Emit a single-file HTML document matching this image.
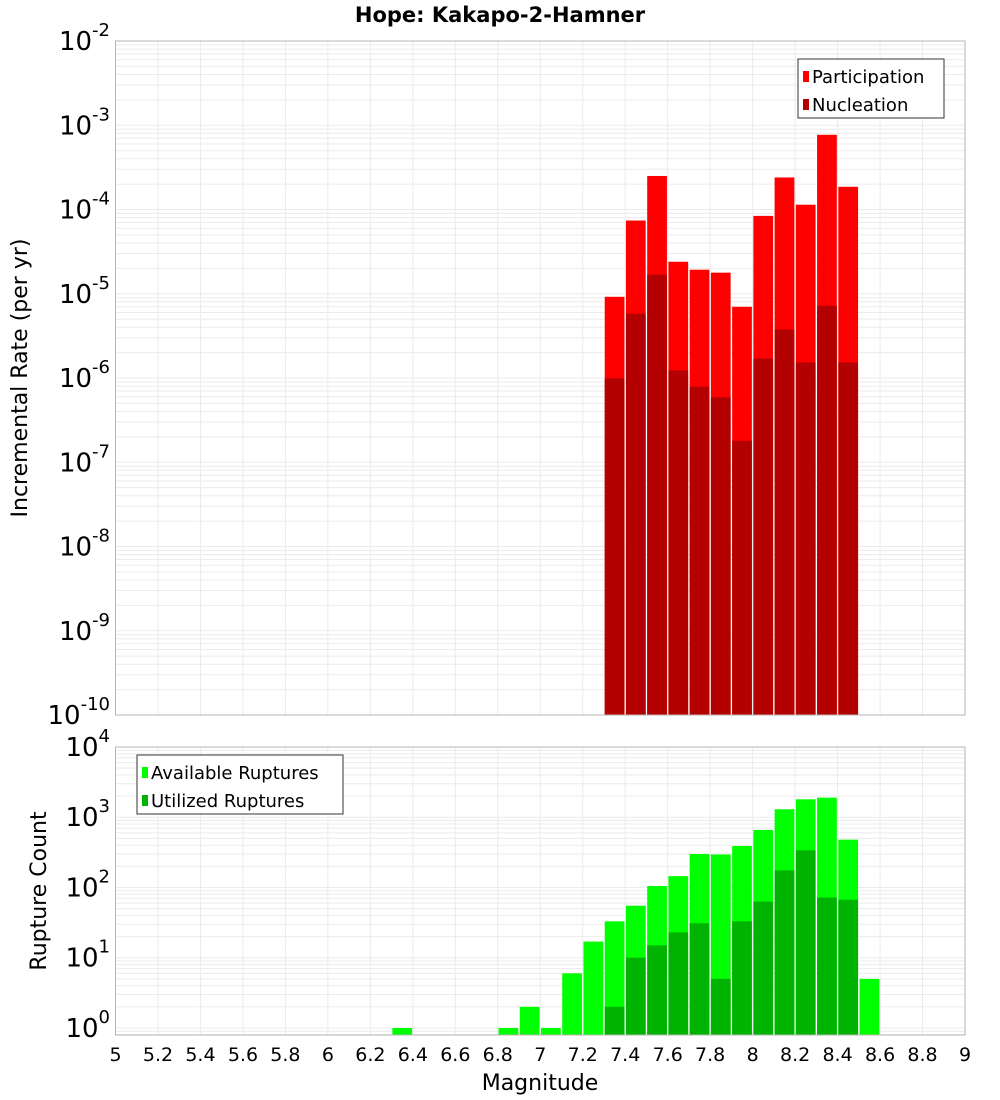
<!DOCTYPE html>
<html><head><meta charset="utf-8"><style>
html,body{margin:0;padding:0;background:#fff;}
svg{display:block;font-family:"DejaVu Sans","Liberation Sans",sans-serif;}
</style></head><body>
<svg id="chart" width="1000" height="1100" xmlns="http://www.w3.org/2000/svg"></svg>
<script>
const binCentersTop = [7.35,7.45,7.55,7.65,7.75,7.85,7.95,8.05,8.15,8.25,8.35,8.45];
const participation = [9.2e-6,7.4e-5,2.5e-4,2.4e-5,1.93e-5,1.78e-5,7.0e-6,8.4e-5,2.4e-4,1.14e-4,7.7e-4,1.86e-4];
const nucleation = [9.9e-7,5.8e-6,1.69e-5,1.23e-6,7.9e-7,5.9e-7,1.8e-7,1.7e-6,3.76e-6,1.53e-6,7.2e-6,1.53e-6];
const binCentersBot = [6.35,6.85,6.95,7.05,7.15,7.25,7.35,7.45,7.55,7.65,7.75,7.85,7.95,8.05,8.15,8.25,8.35,8.45,8.55];
const available = [1,1,2,1,6,17,33,55,105,145,300,295,390,660,1300,1800,1900,480,5];
const utilizedCenters = [7.35,7.45,7.55,7.65,7.75,7.85,7.95,8.05,8.15,8.25,8.35,8.45];
const utilized = [2,10,15,23,31,5,33,63,175,338,72,67];
const xTicks = [5,5.2,5.4,5.6,5.8,6,6.2,6.4,6.6,6.8,7,7.2,7.4,7.6,7.8,8,8.2,8.4,8.6,8.8,9];
const topExps = [-2,-3,-4,-5,-6,-7,-8,-9,-10];
const botExps = [4,3,2,1,0];

const svg = document.getElementById('chart');
const NS = 'http://www.w3.org/2000/svg';
function mk(tag, attrs, parent){const e=document.createElementNS(NS,tag);for(const k in attrs)e.setAttribute(k,attrs[k]);(parent||svg).appendChild(e);return e;}

const L=115.5,R=965;
const xS = v => L + (v-5)/4*(R-L);
const T1=41,B1=715, tMin=-10,tMax=-2;
const yT = v => B1 - (Math.log10(v)-tMin)/(tMax-tMin)*(B1-T1);
const T2=747,B2=1035, bMin=-0.1,bMax=4;
const yB = v => B2 - (Math.log10(v)-bMin)/(bMax-bMin)*(B2-T2);

function grid(top,bot,yF,lo,hi){
  for(let e=lo;e<=hi;e++){for(let m=1;m<10;m++){const v=m*Math.pow(10,e);const y=yF(v);if(y<top-0.5||y>bot+0.5)continue;
    const g=mk('line',{x1:L,x2:R,y1:y,y2:y,stroke:'#ebebeb','stroke-width':1});
    
    }}
  xTicks.forEach(t=>{const x=xS(t);const g=mk('line',{x1:x,x2:x,y1:top,y2:bot,stroke:'#ebebeb','stroke-width':1});
    
    });
}
grid(T1,B1,yT,-10,-2);
grid(T2,B2,yB,-1,4);

const bw = (xS(5.1)-xS(5))-1.5;
function bars(centers,vals,yF,bot,color,name){
  centers.forEach((c,i)=>{const y=yF(vals[i]);const r=mk('rect',{x:xS(c-0.05)+0.75,y:y,width:bw,height:bot-y,fill:color});
    
    });
}
bars(binCentersTop,participation,yT,B1,'#ff0000','participation-bar');
bars(binCentersTop,nucleation,yT,B1,'#b30000','nucleation-bar');
bars(binCentersBot,available,yB,B2,'#00ff00','available-bar');
bars(utilizedCenters,utilized,yB,B2,'#00b300','utilized-bar');

function frame(top,bot,name){const f=mk('rect',{x:L,y:top,width:R-L,height:bot-top,fill:'none',stroke:'#b4b4b4','stroke-width':1});
  
  }
frame(T1,B1,'top-plot-frame');frame(T2,B2,'bottom-plot-frame');

function ylabel(exp,y,name){const t=mk('text',{x:110,y:y+9,'text-anchor':'end','font-size':26,fill:'#000'});
  
  
  t.textContent='10';const s=mk('tspan',{dy:-14,'font-size':18},t);s.textContent=String(exp);}
topExps.forEach(e=>ylabel(e,yT(Math.pow(10,e)),'y-tick-label'));
botExps.forEach(e=>ylabel(e,yB(Math.pow(10,e)),'y-tick-label'));

xTicks.forEach(t=>{const tx=mk('text',{x:xS(t),y:1061,'text-anchor':'middle','font-size':19,fill:'#000'});
  
  
  tx.textContent=String(t);});

let t;
t=mk('text',{x:500,y:22,'text-anchor':'middle','font-size':21,'font-weight':'bold'});
t.textContent='Hope: Kakapo-2-Hamner';
t=mk('text',{x:540,y:1090,'text-anchor':'middle','font-size':22});
t.textContent='Magnitude';
t=mk('text',{x:0,y:0,'text-anchor':'middle','font-size':22,transform:'translate(27,378) rotate(-90)'});
t.textContent='Incremental Rate (per yr)';
t=mk('text',{x:0,y:0,'text-anchor':'middle','font-size':22,transform:'translate(46,891) rotate(-90)'});
t.textContent='Rupture Count';

function legend(x,y,w,items,name){
  const g=mk('g',{});
  mk('rect',{x:x,y:y,width:w,height:59,fill:'#fff',stroke:'#333','stroke-width':1},g);
  items.forEach((it,i)=>{mk('rect',{x:x+5,y:y+12+i*28,width:6,height:11,fill:it[1]},g);
    const tx=mk('text',{x:x+14,y:y+24+i*28,'font-size':18},g);tx.textContent=it[0];});
}
legend(798,59,146,[['Participation','#ff0000'],['Nucleation','#b30000']],'top-legend');
legend(137,755,206,[['Available Ruptures','#00ff00'],['Utilized Ruptures','#00b300']],'bottom-legend');
</script>
</body></html>
